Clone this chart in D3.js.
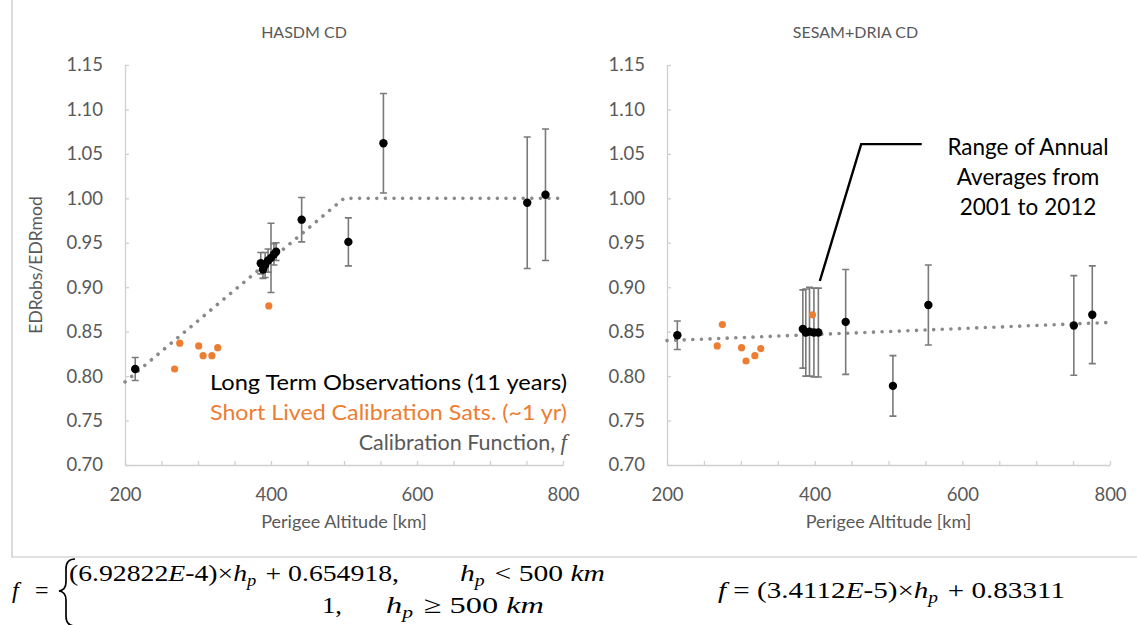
<!DOCTYPE html>
<html><head><meta charset="utf-8">
<script src="https://cdn.jsdelivr.net/npm/d3@7/dist/d3.min.js"></script>
<style>body{margin:0;background:#fff}svg{display:block}</style>
</head><body><svg id="c" width="1137" height="625"></svg>
<script>
// ---------- DATA ----------
const panelTitles = ["HASDM CD", "SESAM+DRIA CD"];
const xTickLabels = [200, 400, 600, 800];
const yTickLabels = [0.70, 0.75, 0.80, 0.85, 0.90, 0.95, 1.00, 1.05, 1.10, 1.15];

// Long term observations (11 years) - HASDM
const hasdmAlt = [214, 386, 389, 392, 396, 400, 404, 407, 442, 506, 554, 751, 776];
const hasdmVal = [0.808, 0.927, 0.920, 0.925, 0.930, 0.933, 0.937, 0.940, 0.976, 0.951, 1.062, 0.995, 1.004];
const hasdmErr = [0.013, 0.012, 0.010, 0.014, 0.013, 0.039, 0.012, 0.010, 0.025, 0.027, 0.056, 0.074, 0.074];

// Long term observations - SESAM+DRIA
const sesamAlt = [214, 384, 388, 393, 399, 405, 442, 506, 554, 751, 776];
const sesamVal = [0.846, 0.853, 0.849, 0.850, 0.849, 0.849, 0.861, 0.789, 0.880, 0.857, 0.869];
const sesamErr = [0.016, 0.044, 0.049, 0.050, 0.050, 0.050, 0.059, 0.034, 0.045, 0.056, 0.055];

// Short lived calibration satellites (~1 yr)
const calibAlt = [268, 275, 301, 307, 319, 327, 397];
const calibHasdm = [0.808, 0.837, 0.834, 0.823, 0.823, 0.832, 0.879];
const calibSesam = [0.834, 0.858, 0.832, 0.817, 0.823, 0.831, 0.869];

// Calibration functions
const fitAltGrid = [200, 500, 800];
const hasdmSlope = 6.92822e-4, hasdmIcpt = 0.654918, hasdmKnee = 500;
const sesamSlope = 3.4112e-5, sesamIcpt = 0.83311;

const legendTexts = ["Long Term Observations (11 years)", "Short Lived Calibration Sats. (~1 yr)", "Calibration Function, "];
const annotationLines = ["Range of Annual", "Averages from", "2001 to 2012"];

// ---------- DRAW ----------
const svg = d3.select("#c");
const sans = "Lato, 'Open Sans', sans-serif";
const serif = "'Liberation Serif', 'DejaVu Serif', serif";
const gray = "#595959", axisCol = "#d0d0d0", dotCol = "#8a8a8a", errCol = "#7a7a7a", orange = "#ED7D31";

// frame
svg.append("path").attr("d", "M12,0 V557 H1137").attr("fill", "none").attr("stroke", "#c4c4c4").attr("stroke-width", 1.2);

const y = d3.scaleLinear().domain([0.70, 1.15]).range([465, 65]);

function panel(x, title, alt, val, err, cAlt, cVal, fitFn, showYTitle, titleDx) {
  const g = svg.append("g");
  // y axis
  const ya = g.append("g").attr("transform", `translate(${x.range()[0]},0)`)
    .call(d3.axisLeft(y).tickValues(yTickLabels).tickSizeInner(-4).tickSizeOuter(0).tickPadding(22).tickFormat(d3.format(".2f")));
  ya.select(".domain").attr("stroke", axisCol).attr("stroke-width", 1.3);
  ya.selectAll(".tick line").attr("stroke", axisCol).attr("stroke-width", 1.3);
  ya.selectAll("text").attr("fill", gray).style("font", `18.5px ${sans}`);
  // x axis minor ticks
  const xa = g.append("g").attr("transform", `translate(0,${y.range()[0]})`)
    .call(d3.axisBottom(x).tickValues(d3.range(200, 801, 50)).tickSizeInner(-4).tickSizeOuter(0).tickFormat(""));
  xa.select(".domain").attr("stroke", axisCol).attr("stroke-width", 1.3);
  xa.selectAll(".tick line").attr("stroke", axisCol).attr("stroke-width", 1.3);
  const xl = g.append("g").attr("transform", `translate(0,${y.range()[0]})`)
    .call(d3.axisBottom(x).tickValues(xTickLabels).tickSize(0).tickPadding(23));
  xl.select(".domain").remove();
  xl.selectAll("text").attr("fill", gray).style("font", `18.5px ${sans}`);
  // titles
  const cx = (x.range()[0] + x.range()[1]) / 2;
  g.append("text").attr("x", cx + titleDx).attr("y", 38).attr("text-anchor", "middle")
    .attr("fill", gray).style("font", `16px ${sans}`).text(title);
  g.append("text").attr("x", cx).attr("y", 528).attr("text-anchor", "middle")
    .attr("fill", gray).style("font", `18px ${sans}`).text("Perigee Altitude [km]");
  if (showYTitle) {
    g.append("text").attr("transform", `translate(42,${(y.range()[0] + y.range()[1]) / 2}) rotate(-90)`)
      .attr("text-anchor", "middle").attr("fill", gray).style("font", `17.5px ${sans}`).text("EDRobs/EDRmod");
  }
  // calibration function dotted
  const line = d3.line().x(d => x(d)).y(d => y(fitFn(d)));
  g.append("path").attr("d", line(fitAltGrid)).attr("fill", "none").attr("stroke", dotCol)
    .attr("stroke-width", 3.6).attr("stroke-linecap", "round").attr("stroke-dasharray", "0.01 8.6");
  // error bars
  const eb = g.append("g").attr("stroke", errCol).attr("stroke-width", 1.6).attr("fill", "none");
  alt.forEach((a, i) => {
    const px = x(a), y1 = y(val[i] + err[i]), y2 = y(val[i] - err[i]);
    eb.append("path").attr("d", `M${px},${y1}V${y2}M${px - 3.5},${y1}H${px + 3.5}M${px - 3.5},${y2}H${px + 3.5}`);
  });
  // calibration sats
  g.selectAll("circle.c").data(cAlt).enter().append("circle")
    .attr("cx", d => x(d)).attr("cy", (d, i) => y(cVal[i])).attr("r", 3.6).attr("fill", orange);
  // long term
  g.selectAll("circle.l").data(alt).enter().append("circle")
    .attr("cx", d => x(d)).attr("cy", (d, i) => y(val[i])).attr("r", 4.2).attr("fill", "#000");
  return g;
}

const xL = d3.scaleLinear().domain([200, 800]).range([125, 563]);
const xR = d3.scaleLinear().domain([200, 800]).range([667, 1110]);

const gL = panel(xL, panelTitles[0], hasdmAlt, hasdmVal, hasdmErr, calibAlt, calibHasdm,
  h => h < hasdmKnee ? hasdmSlope * h + hasdmIcpt : 1, true, -40);
const gR = panel(xR, panelTitles[1], sesamAlt, sesamVal, sesamErr, calibAlt, calibSesam,
  h => sesamSlope * h + sesamIcpt, false, -33);

// legend (left panel)
const legCols = ["#000", orange, gray];
const legW = [357, 357, 0];
legendTexts.forEach((t, i) => {
  const tx = gL.append("text").attr("x", 567).attr("y", 390 + i * 30).attr("text-anchor", "end")
    .attr("fill", legCols[i]).style("font", `21.5px ${sans}`);
  if (i < 2) { tx.text(t).attr("textLength", legW[i]).attr("lengthAdjust", "spacingAndGlyphs"); }
  else {
    tx.append("tspan").text(t);
    tx.append("tspan").style("font", `italic 23px ${serif}`).text("f");
  }
});

// annotation callout (right panel)
gR.append("path").attr("d", d3.line()([[xR(407), y(0.907)], [xR(463), y(1.061)], [xR(545), y(1.061)]]))
  .attr("fill", "none").attr("stroke", "#000").attr("stroke-width", 2.4);
annotationLines.forEach((t, i) => {
  gR.append("text").attr("x", 1028).attr("y", 155 + i * 30).attr("text-anchor", "middle")
    .attr("fill", "#000").style("font", `22.5px ${sans}`).text(t);
});

// formulas
const fm = svg.append("g").style("font", `24px ${serif}`).attr("fill", "#000");
function hp(sel) {
  sel.append("tspan").style("font-style", "italic").text("h");
  sel.append("tspan").style("font-style", "italic").style("font-size", "16px").attr("dy", 5).text("p");
  sel.append("tspan").attr("dy", -5).text("\u200A");
}
function ftext(x, yy, len) {
  const t = fm.append("text").attr("x", x).attr("y", yy);
  if (len) t.attr("textLength", len).attr("lengthAdjust", "spacingAndGlyphs");
  return t;
}
let t;
t = ftext(12, 598);
t.append("tspan").style("font-style", "italic").text("f");
t = ftext(35, 598);
t.append("tspan").text("=");
// brace
fm.append("path").attr("d", "M75,559 Q66,559 66,569 L66,582 Q66,590 59,591 Q66,592 66,600 L66,616 Q66,626 75,626")
  .attr("fill", "none").attr("stroke", "#000").attr("stroke-width", 1.7);
t = ftext(69, 581, 330);
t.append("tspan").text("(6.92822");
t.append("tspan").style("font-style", "italic").text("E");
t.append("tspan").text("-4)×");
hp(t);
t.append("tspan").text(" + 0.654918,");
t = ftext(460, 581, 145);
hp(t);
t.append("tspan").text(" < 500 ");
t.append("tspan").style("font-style", "italic").text("km");
t = ftext(322, 613, 20);
t.append("tspan").text("1,");
t = ftext(386, 613, 158);
hp(t);
t.append("tspan").text(" ≥ 500 ");
t.append("tspan").style("font-style", "italic").text("km");
t = ftext(718, 598, 347);
t.append("tspan").style("font-style", "italic").text("f");
t.append("tspan").text(" = (3.4112");
t.append("tspan").style("font-style", "italic").text("E");
t.append("tspan").text("-5)×");
hp(t);
t.append("tspan").text(" + 0.83311");
</script></body></html>
